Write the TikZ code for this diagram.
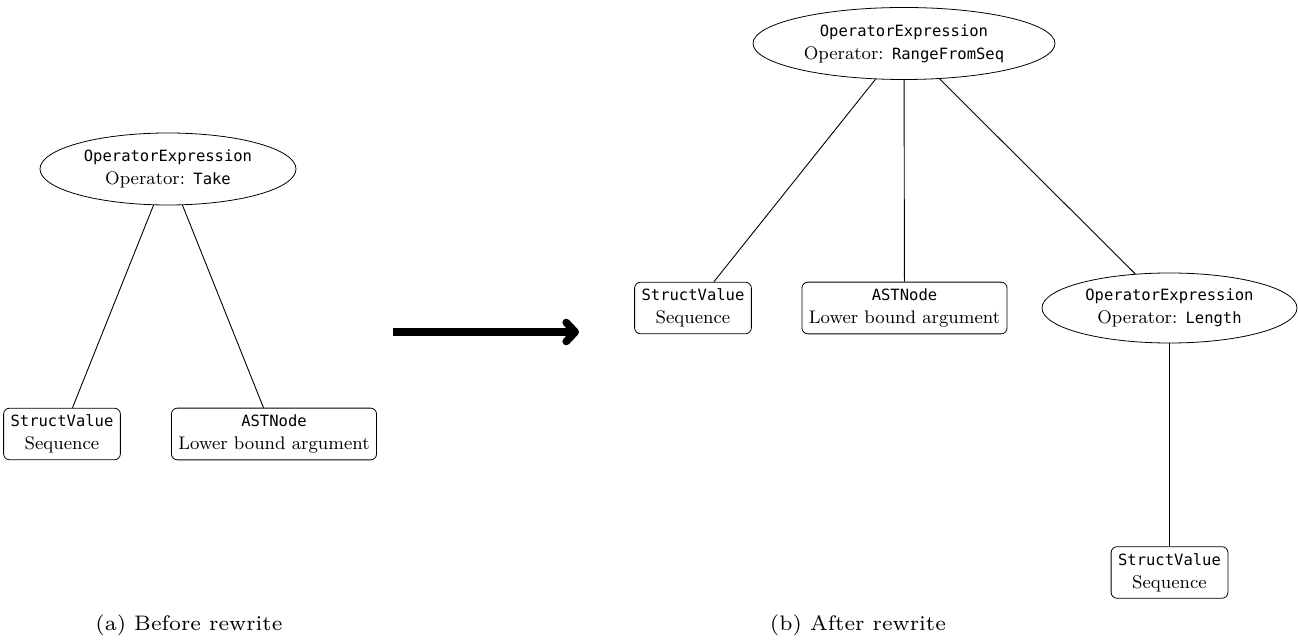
\documentclass[tikz,border=0pt]{standalone}
\usepackage{fontspec}
\setmainfont{Latin Modern Roman}
\setmonofont{DejaVu Sans Mono}[Scale=0.85]
\newfontfamily\captionfont{lmroman7-regular}[Extension=.otf]
\usetikzlibrary{shapes.geometric,arrows.meta}
\begin{document}
\begin{tikzpicture}[x=0.5pt,y=-0.5pt,
  every node/.style={font=\fontsize{9.13}{11.5}\selectfont, align=center},
  opnode/.style={draw, ellipse, inner sep=0pt, minimum height=36pt},
  leafbox/.style={draw, rounded corners=3pt, inner xsep=3.5pt, inner ysep=3.3pt},
  edge/.style={line width=0.45pt},
  caption/.style={font=\captionfont\fontsize{10.5}{13}\selectfont}]
  \useasboundingbox (0,0) rectangle (1298,641);

  % before rewrite
  \node[opnode, minimum width=128pt] (take) at (168,169)
    {\texttt{OperatorExpression}\\Operator: \texttt{Take}};
  \node[leafbox] (seqA) at (62,434) {\texttt{StructValue}\\Sequence};
  \node[leafbox] (lowA) at (274,434) {\texttt{ASTNode}\\Lower bound argument};
  \draw[edge] (take) -- (seqA);
  \draw[edge] (take) -- (lowA);

  % rewrite arrow
  \coordinate (arrS) at (393,332);
  \coordinate (arrE) at (579,332);
  \draw[line width=3.8pt, -{Straight Barb[length=4.5pt,width=9.5pt,round]}] (arrS) -- (arrE);

  % after rewrite
  \node[opnode, minimum width=151pt] (range) at (904,43.5)
    {\texttt{OperatorExpression}\\Operator: \texttt{RangeFromSeq}};
  \node[leafbox] (seqB) at (693,308) {\texttt{StructValue}\\Sequence};
  \node[leafbox] (lowB) at (904.5,308) {\texttt{ASTNode}\\Lower bound argument};
  \node[opnode, minimum width=127.5pt, minimum height=35pt] (len) at (1169.5,308)
    {\texttt{OperatorExpression}\\Operator: \texttt{Length}};
  \node[leafbox] (seqC) at (1169.5,572.5) {\texttt{StructValue}\\Sequence};
  \draw[edge] (range) -- (seqB);
  \draw[edge] (range) -- (lowB);
  \draw[edge] (range) -- (len);
  \draw[edge] (len) -- (seqC);

  % captions
  \node[caption] (capA) at (189,625) {(a) Before rewrite};
  \node[caption] (capB) at (858,625) {(b) After rewrite};
\end{tikzpicture}
\end{document}
